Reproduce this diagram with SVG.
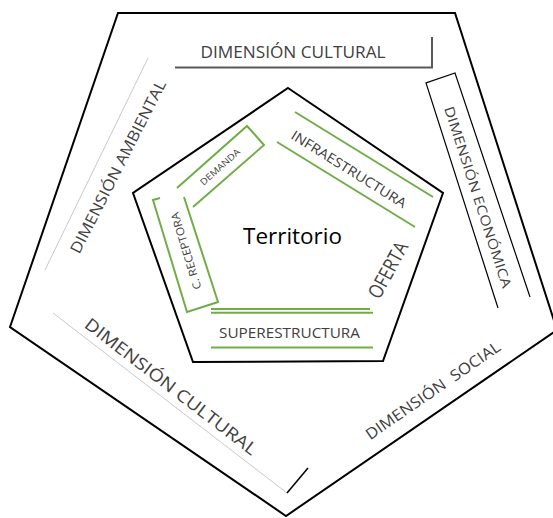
<svg xmlns="http://www.w3.org/2000/svg" width="553" height="518" viewBox="0 0 553 518">
<style>
.lbl{font-family:"Open Sans","Liberation Sans",sans-serif;fill:#404040;text-anchor:middle}
.blk{fill:none;stroke:#000;stroke-width:2;stroke-linejoin:miter}
.grn{fill:none;stroke:#70AD47;stroke-width:2}
.thin{fill:none;stroke:#c8c8c8;stroke-width:1}
</style>
<rect width="553" height="518" fill="#fff"/>
<g id="outer-pentagon">
<polygon class="blk" points="118,13 455,13 557,330 286,516 10,327"/>
</g>
<g id="connectors">
<polyline points="175,67.5 432,67.5 432,37" fill="none" stroke="#595959" stroke-width="2"/>
<polyline points="498,308 426,83 455,73 530,297" fill="none" stroke="#000" stroke-width="1.2"/>
<line class="thin" x1="148" y1="58" x2="45" y2="270"/>
<line class="thin" x1="53" y1="313" x2="287" y2="493"/>
<line x1="287" y1="493" x2="308" y2="468" stroke="#000" stroke-width="1.5"/>
</g>
<g id="dim-cultural-top">
<text class="lbl" x="293" y="57.5" font-size="16.5" textLength="185" lengthAdjust="spacingAndGlyphs">DIMENSIÓN CULTURAL</text>
</g>
<g id="dim-economica">
<text class="lbl" transform="translate(478,197) rotate(72)" y="5" font-size="13.5" textLength="190" lengthAdjust="spacingAndGlyphs">DIMENSIÓN ECONÓMICA</text>
</g>
<g id="dim-ambiental">
<text class="lbl" transform="translate(117.5,166.5) rotate(-63)" y="6" font-size="15.5" textLength="192" lengthAdjust="spacingAndGlyphs">DIMENSIÓN AMBIENTAL</text>
</g>
<g id="dim-cultural-bottom">
<text class="lbl" transform="translate(171,386.5) rotate(37.6)" y="6" font-size="17" textLength="212" lengthAdjust="spacingAndGlyphs">DIMENSIÓN CULTURAL</text>
</g>
<g id="dim-social">
<text class="lbl" transform="translate(432.5,390) rotate(-34.7)" y="6" font-size="15.5" textLength="160" lengthAdjust="spacingAndGlyphs" xml:space="preserve" style="white-space:pre">DIMENSIÓN  SOCIAL</text>
</g>
<g id="territorio">
<polygon class="blk" points="288,88 443,193 383,361 193,362 133,193"/>
<text x="292.5" y="244" font-family="'Open Sans','Liberation Sans',sans-serif" font-size="21" fill="#000" text-anchor="middle" textLength="99" lengthAdjust="spacingAndGlyphs">Territorio</text>
</g>
<g id="infraestructura">
<line class="grn" x1="295" y1="112" x2="433" y2="197"/>
<line class="grn" x1="277" y1="142" x2="415" y2="227"/>
<text class="lbl" transform="translate(349,169) rotate(32)" y="5" font-size="13.5" textLength="133" lengthAdjust="spacingAndGlyphs">INFRAESTRUCTURA</text>
</g>
<g id="demanda">
<polyline class="grn" points="177,188 247,126 264,145 193,207"/>
<text class="lbl" transform="translate(220,167) rotate(-41.5)" y="3.2" font-size="9" textLength="50" lengthAdjust="spacingAndGlyphs">DEMANDA</text>
</g>
<g id="c-receptora">
<polyline class="grn" points="160,198 153,200 187,312 218,302 184,197"/>
<text class="lbl" transform="translate(186,251) rotate(-107)" y="4" font-size="11" textLength="80" lengthAdjust="spacingAndGlyphs">C. RECEPTORA</text>
</g>
<g id="oferta">
<text class="lbl" transform="translate(388,270) rotate(-61.5)" y="7" font-size="20" textLength="61" lengthAdjust="spacingAndGlyphs">OFERTA</text>
</g>
<g id="superestructura">
<line class="grn" x1="211" y1="309" x2="370" y2="309"/>
<line class="grn" x1="211" y1="312.7" x2="373" y2="312.7"/>
<line class="grn" x1="211" y1="347.5" x2="373" y2="347.5"/>
<text class="lbl" x="289.5" y="338" font-size="14.5" textLength="141" lengthAdjust="spacingAndGlyphs">SUPERESTRUCTURA</text>
</g>
</svg>
